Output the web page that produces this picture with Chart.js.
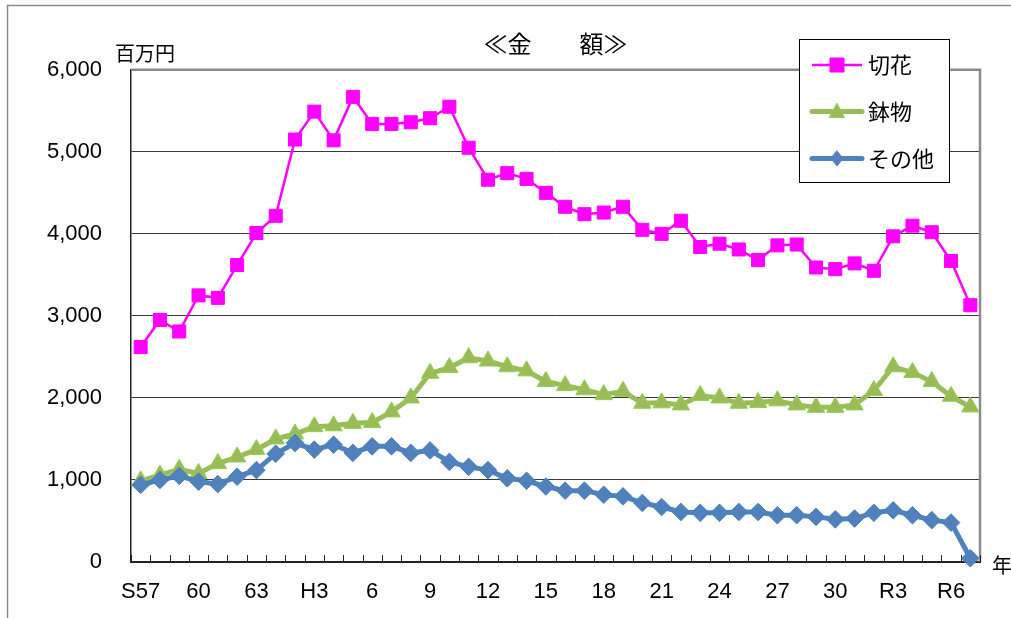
<!DOCTYPE html>
<html>
<head>
<meta charset="utf-8">
<script src="https://cdn.jsdelivr.net/npm/chart.js@4.4.1/dist/chart.umd.min.js"></script>
<style>
  html, body { margin: 0; padding: 0; background: #fff; }
  #wrap { width: 1011px; height: 618px; position: relative; }
</style>
</head>
<body>
<div id="wrap"><canvas id="c" width="1011" height="618"></canvas></div>
<script>
// Categories: fiscal years S57 (1982) .. R7 (2025)
const years = ['S57','S58','S59','S60','S61','S62','S63',
  'H1','H2','H3','H4','H5','H6','H7','H8','H9','H10','H11','H12','H13','H14','H15','H16','H17','H18','H19','H20',
  'H21','H22','H23','H24','H25','H26','H27','H28','H29','H30',
  'R1','R2','R3','R4','R5','R6','R7'];
// Axis tick labels shown under the axis
const tickLabels = ['S57','','','60','','','63','','','H3','','','6','','','9','','','12','','','15','','',
  '18','','','21','','','24','','','27','','','30','','','R3','','','R6',''];
// Series (百万円)
const cutFlowers = [2620, 2950, 2810, 3250, 3220, 3620, 4010, 4220, 5150, 5490, 5140, 5670, 5340, 5340, 5360, 5410, 5550, 5050, 4660, 4740, 4670, 4500, 4330, 4240, 4260, 4330, 4050, 4000, 4160, 3840, 3880, 3810, 3680, 3860, 3870, 3590, 3570, 3640, 3550, 3970, 4100, 4020, 3670, 3130];
const pottedPlants = [990, 1060, 1130, 1080, 1200, 1280, 1370, 1500, 1560, 1650, 1660, 1690, 1700, 1830, 2000, 2300, 2370, 2490, 2450, 2380, 2330, 2200, 2150, 2100, 2040, 2080, 1935, 1940, 1915, 2030, 2000, 1935, 1945, 1965, 1915, 1885, 1885, 1915, 2090, 2380, 2310, 2200, 2020, 1890];
const others = [940, 1000, 1050, 980, 950, 1040, 1120, 1320, 1450, 1370, 1430, 1330, 1410, 1410, 1330, 1360, 1220, 1160, 1120, 1020, 990, 920, 870, 870, 820, 800, 720, 670, 610, 600, 600, 610, 610, 570, 570, 550, 520, 530, 600, 630, 570, 510, 480, 45];
const seriesNames = ['切花', '鉢物', 'その他'];
const yTicks = [0, 1000, 2000, 3000, 4000, 5000, 6000];

const JP = '"Noto Sans CJK JP", "Noto Sans", sans-serif';
const NUM = '"Liberation Sans", Arial, sans-serif';

const styles = [
  { color: '#FF00FF', border: '#FF00FF', lw: 2.5, shape: 'rect', r: 9.2 },
  { color: '#9BBB59', border: '#8FD14F', lw: 5, shape: 'triangle', r: 10 },
  { color: '#4F81BD', border: '#4F81BD', lw: 5, shape: 'rectRot', r: 8.8 }
];

const frameAndExtras = {
  id: 'frameAndExtras',
  beforeDraw(chart) {
    const ctx = chart.ctx;
    ctx.save();
    ctx.fillStyle = '#fff';
    ctx.fillRect(0, 0, chart.width, chart.height);
    ctx.strokeStyle = '#8a8a8a';
    ctx.lineWidth = 1.5;
    ctx.strokeRect(7.5, 5.5, chart.width + 50, chart.height + 50);
    ctx.restore();
  },
  beforeDatasetsDraw(chart) {
    const ctx = chart.ctx, a = chart.chartArea, xs = chart.scales.x;
    ctx.save();
    // plot area top and right border
    ctx.strokeStyle = '#8a8a8a';
    ctx.lineWidth = 2.5;
    ctx.beginPath();
    ctx.moveTo(a.left, a.top);
    ctx.lineTo(a.right, a.top);
    ctx.lineTo(a.right, a.bottom);
    ctx.stroke();
    // inside tick marks on category axis (between categories)
    ctx.strokeStyle = '#222';
    ctx.lineWidth = 1;
    ctx.beginPath();
    for (let i = 0; i <= years.length; i++) {
      const x = Math.round(xs.getPixelForValue(i - 0.5)) + 0.5;
      ctx.moveTo(x, a.bottom);
      ctx.lineTo(x, a.bottom - 7);
    }
    ctx.stroke();
    ctx.restore();
  },
  afterDraw(chart) {
    const ctx = chart.ctx;
    ctx.save();
    // unit labels
    ctx.fillStyle = '#000';
    ctx.font = '20px ' + JP;
    ctx.textBaseline = 'middle';
    ctx.textAlign = 'left';
    ctx.fillText('百万円', 115, 53);
    ctx.fillText('年', 992, 565);
    // legend
    const bx = 799.5, by = 39.5, bw = 150, bh = 143;
    ctx.fillStyle = '#fff';
    ctx.fillRect(bx, by, bw, bh);
    ctx.strokeStyle = '#000';
    ctx.lineWidth = 1;
    ctx.strokeRect(bx, by, bw, bh);
    const rows = [65, 111.5, 158.5];
    chart.data.datasets.forEach((ds, i) => {
      const st = styles[i];
      const y = rows[i];
      ctx.strokeStyle = st.color;
      ctx.lineWidth = st.lw;
      ctx.lineCap = i === 0 ? 'butt' : 'round';
      ctx.beginPath();
      ctx.moveTo(812, y);
      ctx.lineTo(862, y);
      ctx.stroke();
      const cx = 837;
      ctx.fillStyle = st.color;
      ctx.strokeStyle = st.border;
      ctx.lineWidth = 1;
      ctx.beginPath();
      if (st.shape === 'rect') {
        ctx.rect(cx - 7, y - 7, 14, 14);
      } else if (st.shape === 'triangle') {
        ctx.moveTo(cx, y - 8);
        ctx.lineTo(cx + 7.5, y + 6);
        ctx.lineTo(cx - 7.5, y + 6);
        ctx.closePath();
      } else {
        ctx.moveTo(cx, y - 7.5);
        ctx.lineTo(cx + 6, y);
        ctx.lineTo(cx, y + 7.5);
        ctx.lineTo(cx - 6, y);
        ctx.closePath();
      }
      ctx.fill();
      ctx.stroke();
      ctx.fillStyle = '#000';
      ctx.font = '22px ' + JP;
      ctx.textAlign = 'left';
      ctx.textBaseline = 'middle';
      ctx.fillText(ds.label, 868, y);
    });
    ctx.restore();
  }
};

const datasets = [cutFlowers, pottedPlants, others].map((vals, i) => ({
  label: seriesNames[i],
  data: vals,
  borderColor: styles[i].color,
  backgroundColor: styles[i].color,
  borderWidth: styles[i].lw,
  pointStyle: styles[i].shape,
  pointRadius: styles[i].r,
  pointHoverRadius: styles[i].r,
  pointBackgroundColor: styles[i].color,
  pointBorderColor: styles[i].border,
  pointBorderWidth: 1,
  tension: 0,
  clip: false,
  order: 3 - i
}));

new Chart(document.getElementById('c'), {
  type: 'line',
  data: { labels: years, datasets },
  options: {
    responsive: false,
    animation: false,
    events: [],
    layout: { padding: { left: 0, right: 31, top: 0, bottom: 0 } },
    plugins: {
      legend: { display: false },
      tooltip: { enabled: false },
      title: {
        display: true,
        text: '≪金　　額≫',
        fullSize: false,
        color: '#000',
        font: { family: JP, size: 24, weight: 'normal' },
        padding: { top: 29, bottom: 12 }
      }
    },
    scales: {
      x: {
        type: 'category',
        offset: true,
        afterFit(s) { s.height = 56; },
        grid: { display: true, offset: true, drawOnChartArea: false, drawTicks: false },
        border: { display: true, color: '#222', width: 2 },
        ticks: {
          autoSkip: false,
          maxRotation: 0,
          padding: 17,
          color: '#000',
          font: { family: NUM, size: 22 },
          callback: (v, i) => tickLabels[i]
        }
      },
      y: {
        min: 0,
        max: 6000,
        afterFit(s) { s.width = 131; },
        afterBuildTicks(s) { s.ticks = yTicks.map(v => ({ value: v })); },
        grid: {
          drawTicks: false,
          color: ctx => ctx.tick && ctx.tick.value === 6000 ? 'rgba(0,0,0,0)' : '#3a3a3a',
          lineWidth: 1
        },
        border: { display: true, color: '#222', width: 1.5 },
        ticks: {
          padding: 29,
          color: '#000',
          font: { family: NUM, size: 22 },
          callback: v => v.toLocaleString('en-US')
        }
      }
    }
  },
  plugins: [frameAndExtras]
});
</script>
</body>
</html>
